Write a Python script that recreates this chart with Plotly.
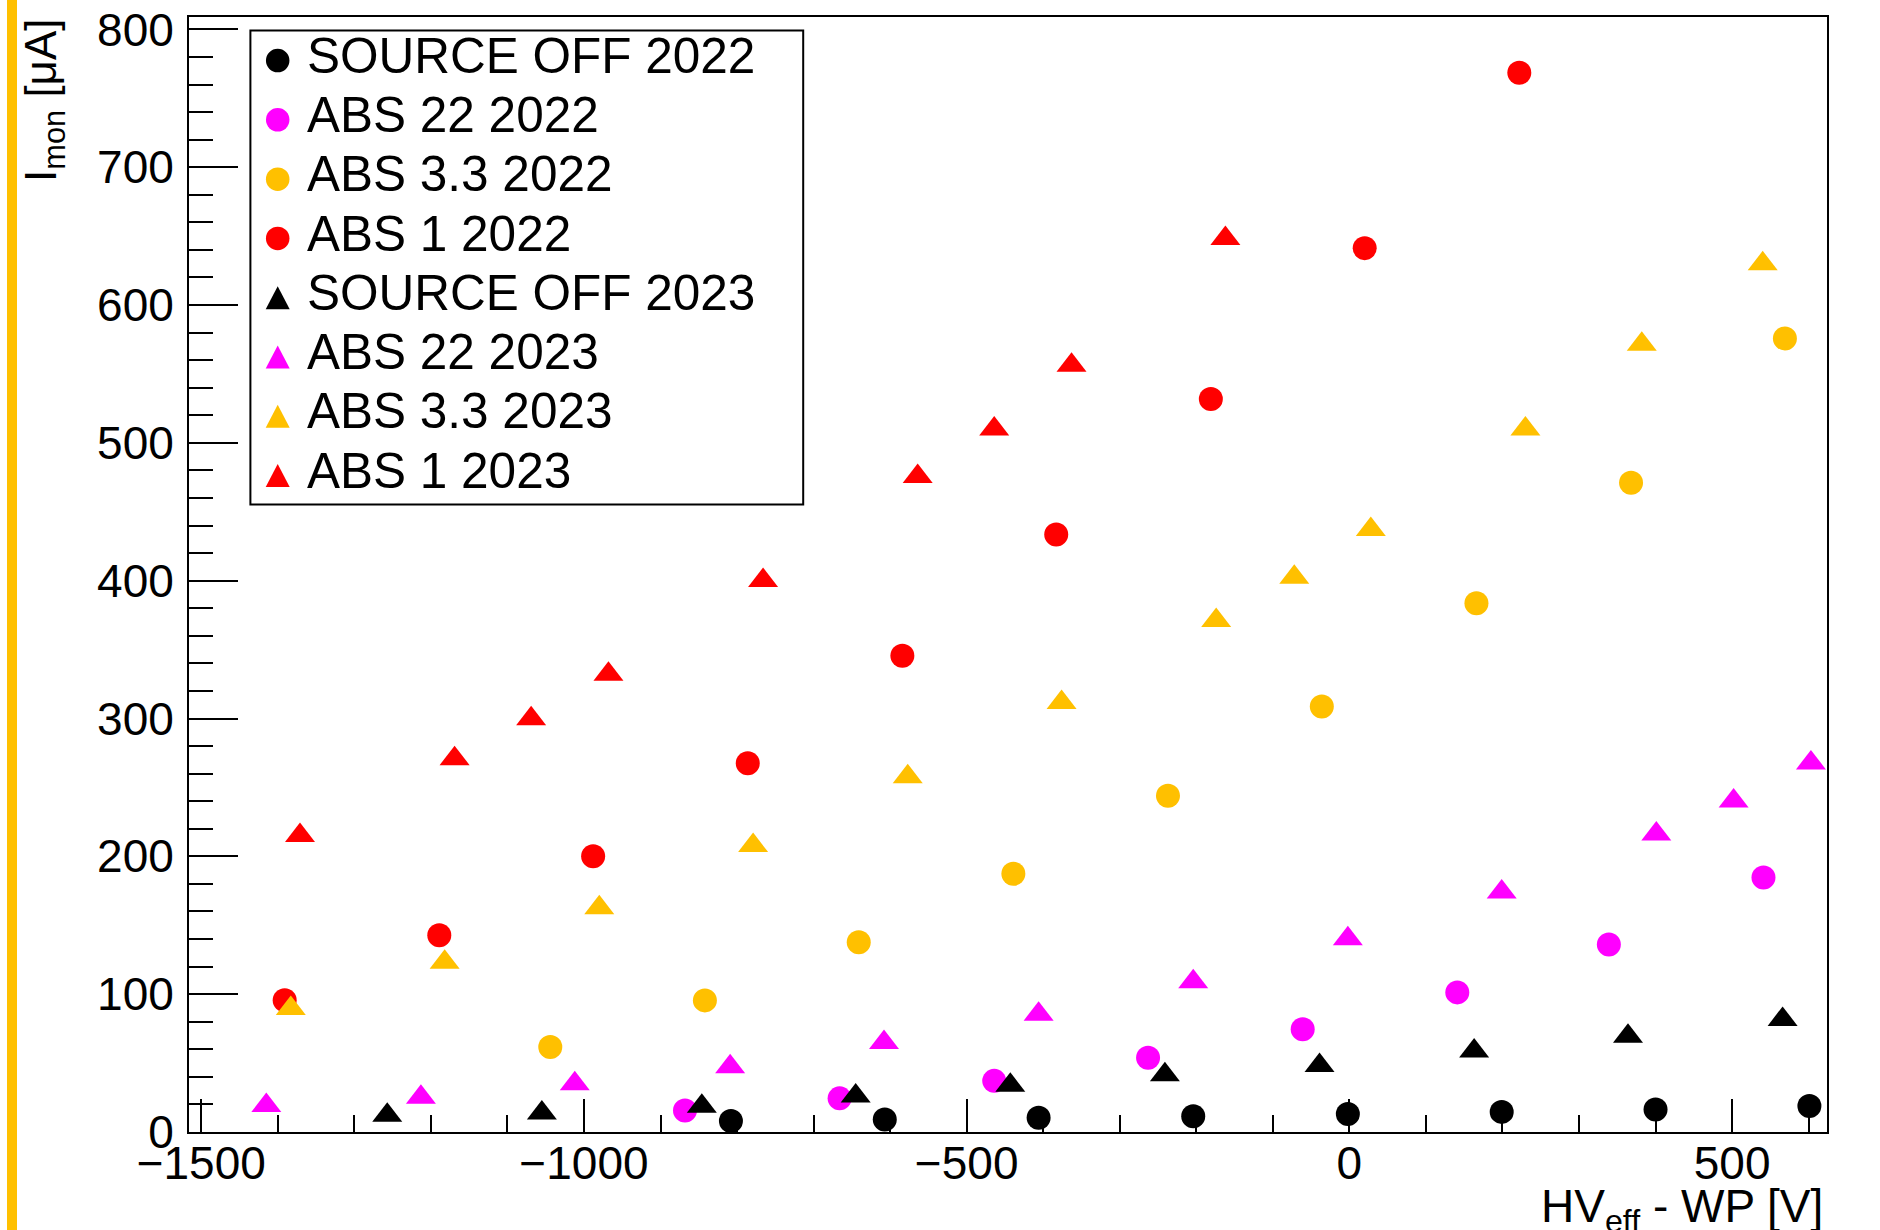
import plotly.graph_objects as go

# ---- data: monitored current vs. effective HV relative to working point ----
names = [
    "SOURCE OFF 2022", "ABS 22 2022", "ABS 3.3 2022", "ABS 1 2022",
    "SOURCE OFF 2023", "ABS 22 2023", "ABS 3.3 2023", "ABS 1 2023",
]

off22_x = [-808, -607, -406, -204, -2, 199, 400, 601]
off22_y = [8.0, 9.1, 10.4, 11.5, 13.0, 14.6, 16.4, 18.9]

abs22_22_x = [-868, -666, -464, -263, -61, 141, 339, 541]
abs22_22_y = [15.6, 24.4, 37.1, 53.9, 74.6, 101.3, 136.0, 184.7]

abs33_22_x = [-1044, -842, -641, -439, -237, -36, 166, 368, 569]
abs33_22_y = [61.7, 95.5, 137.6, 187.3, 244.0, 308.8, 383.6, 471.1, 575.8]

abs1_22_x = [-1391, -1189, -988, -786, -584, -383, -181, 20, 222]
abs1_22_y = [95.6, 142.7, 200.0, 267.6, 345.5, 433.6, 531.8, 641.3, 768.5]

off23_x = [-1257, -1055, -846, -645, -443, -241, -39, 163, 364, 566]
off23_y = [12.2, 13.8, 18.7, 26.2, 33.9, 41.5, 48.2, 58.8, 69.5, 81.7]

abs22_23_x = [-1415, -1213, -1012, -809, -608, -406, -204, -2, 199, 401, 502, 603]
abs22_23_y = [19.2, 25.2, 35.0, 47.4, 65.0, 85.5, 109.1, 140.2, 174.1, 216.3, 240.1, 267.8]

abs33_23_x = [-1383, -1182, -980, -779, -577, -376, -174, -72, 28, 230, 382, 540]
abs33_23_y = [89.6, 123.1, 162.7, 207.8, 257.7, 311.6, 371.1, 402.5, 437.2, 510.0, 571.6, 629.9]

abs1_23_x = [-1371, -1169, -1069, -968, -766, -564, -464, -363, -162]
abs1_23_y = [215.2, 270.9, 299.9, 332.1, 400.2, 475.6, 510.0, 556.3, 648.3]

series_x = [off22_x, abs22_22_x, abs33_22_x, abs1_22_x,
            off23_x, abs22_23_x, abs33_23_x, abs1_23_x]
series_y = [off22_y, abs22_22_y, abs33_22_y, abs1_22_y,
            off23_y, abs22_23_y, abs33_23_y, abs1_23_y]

colors = ["#000000", "#FF00FF", "#FFC000", "#FF0000"] * 2
symbols = ["circle"] * 4 + ["triangle-up"] * 4

x_title = "HV<sub>eff</sub> - WP [V]"
y_title = "I<sub>mon</sub> [\u03bcA]"

# ---- canvas geometry (pixels) ----
W, H = 1880, 1230
TOP, BOTTOM = 17, 1132      # frame top / x-axis line
LEFT, RIGHT = 189, 1827     # y-axis line / right frame
ML, MR, MT, MB = LEFT, W - RIGHT, TOP, H - BOTTOM
PW, PH = RIGHT - LEFT, BOTTOM - TOP
FONT = "Liberation Sans, Arial, Helvetica, sans-serif"


def fx(px):
    return (px - LEFT) / PW


def fy(py):
    return (BOTTOM - py) / PH


fig = go.Figure()
for nm, xs, ys, c, s in zip(names, series_x, series_y, colors, symbols):
    fig.add_trace(go.Scatter(
        x=xs, y=ys, mode="markers", name=nm, showlegend=False,
        marker=dict(color=c, symbol=s, size=24 if s == "circle" else 26,
                    line=dict(width=0)),
        cliponaxis=False,
    ))

axis_common = dict(
    showline=True, linecolor="black", linewidth=2, mirror=True,
    ticks="inside", tickcolor="black", tickwidth=2,
    showgrid=False, zeroline=False, automargin=False,
    ticklabeloverflow="allow",
    tickfont=dict(family=FONT, size=46, color="black"),
)

fig.update_xaxes(
    range=[-1516, 624], tick0=0, dtick=500, ticklen=33,
    ticklabelstandoff=-10,
    minor=dict(ticks="inside", ticklen=17, tickwidth=2, tickcolor="black",
               tick0=0, dtick=100, showgrid=False),
    **axis_common,
)
fig.update_yaxes(
    range=[0, 809], tick0=0, dtick=100, ticklen=49,
    ticklabelstandoff=4,
    minor=dict(ticks="inside", ticklen=24, tickwidth=2, tickcolor="black",
               tick0=0, dtick=20, showgrid=False),
    **axis_common,
)

shapes = []
annotations = []

# amber strip along the left edge
shapes.append(dict(type="rect", xref="paper", yref="paper",
                   x0=fx(7), x1=fx(17), y0=fy(H + 20), y1=fy(-20),
                   fillcolor="#FFC000", line=dict(width=0), layer="above"))

# legend box
shapes.append(dict(type="rect", xref="paper", yref="paper",
                   x0=fx(250.4), x1=fx(803.2), y0=fy(504.5), y1=fy(30.6),
                   fillcolor="white", line=dict(color="black", width=2),
                   layer="below"))

row0, row_step = 60.6, 59.27
key_x = 277.7
for i, (nm, c, s) in enumerate(zip(names, colors, symbols)):
    cy = row0 + i * row_step
    if s == "circle":
        shapes.append(dict(type="circle", xref="paper", yref="paper",
                           xsizemode="pixel", ysizemode="pixel",
                           xanchor=fx(key_x), yanchor=fy(cy),
                           x0=-11.75, x1=11.75, y0=-11.75, y1=11.75,
                           fillcolor=c, line=dict(width=0), layer="above"))
    else:
        shapes.append(dict(type="path", xref="paper", yref="paper",
                           xsizemode="pixel", ysizemode="pixel",
                           xanchor=fx(key_x), yanchor=fy(cy),
                           path="M-12,-11.5 L12,-11.5 L0,11.5 Z",
                           fillcolor=c, line=dict(width=0), layer="above"))
    annotations.append(dict(
        text=nm, xref="paper", yref="paper", x=fx(304.5), y=fy(cy - 5.4),
        xanchor="left", yanchor="middle", showarrow=False,
        font=dict(family=FONT, size=49.5, color="black"),
    ))

# axis titles (placed at the axis ends)
annotations.append(dict(
    text=x_title, xref="paper", yref="paper", x=fx(1825), y=fy(1178),
    xanchor="right", yanchor="top", showarrow=False,
    font=dict(family=FONT, size=46, color="black"),
))
annotations.append(dict(
    text=y_title, xref="paper", yref="paper", x=fx(14), y=fy(16),
    xanchor="left", yanchor="top", textangle=-90, showarrow=False,
    font=dict(family=FONT, size=44, color="black"),
))

fig.update_layout(
    width=W, height=H,
    margin=dict(l=ML, r=MR, t=MT, b=MB, pad=0, autoexpand=False),
    paper_bgcolor="white", plot_bgcolor="white",
    showlegend=False,
    shapes=shapes, annotations=annotations,
    font=dict(family=FONT, color="black"),
)

fig.write_html("out.html")
